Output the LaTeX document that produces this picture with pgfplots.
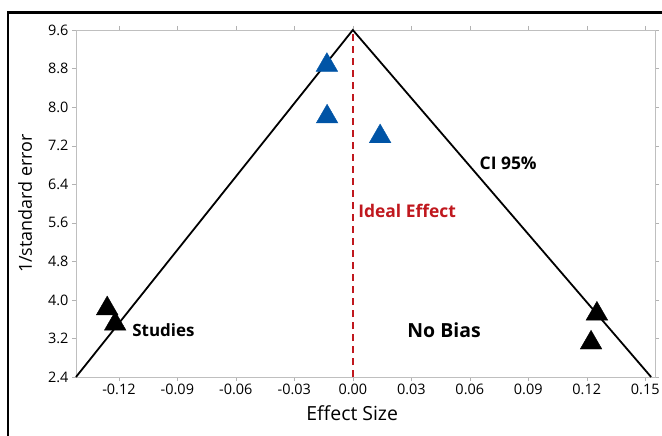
\documentclass[border=0pt]{standalone}
\usepackage{pgfplots}
\pgfplotsset{compat=1.18}
\usepackage{fontspec}
\setmainfont{Open Sans}
\definecolor{ptblue}{RGB}{0,84,166}
\definecolor{idealred}{RGB}{192,24,30}
\begin{document}
\begin{tikzpicture}
\begin{axis}[
  at={(0,0)}, anchor=south west,
  scale only axis, width=579bp, height=347bp,
  xmin=-0.142, xmax=0.155, ymin=2.4, ymax=9.6,
  axis line style={gray!50},
  tick style={gray!60},
  tick align=outside,
  major tick length=4bp,
  xtick={-0.12,-0.09,-0.06,-0.03,0,0.03,0.06,0.09,0.12,0.15},
  xticklabels={-0.12,-0.09,-0.06,-0.03,0.00,0.03,0.06,0.09,0.12,0.15},
  ytick={2.4,3.2,4.0,4.8,5.6,6.4,7.2,8.0,8.8,9.6},
  yticklabels={2.4,3.2,4.0,4.8,5.6,6.4,7.2,8.0,8.8,9.6},
  ticklabel style={font=\fontsize{14.5}{16}\selectfont},
  /pgf/number format/assume math mode=true,
  xlabel={Effect Size}, ylabel={1/standard error},
  xlabel style={font=\fontsize{19.5}{21}\selectfont, at={(axis description cs:0.477,-0.103)}, anchor=center},
  ylabel style={font=\fontsize{18}{20}\selectfont, at={(axis description cs:-0.088,0.5)}, anchor=center},
  clip=false,
]
\addplot[black, line width=1.8bp] coordinates {(-0.142,2.4) (0,9.6) (0.153,2.4)};
\addplot[idealred, line width=2bp, dash pattern=on 7bp off 5bp] coordinates {(0,2.4) (0,9.6)};
\addplot[only marks, mark=triangle*, mark size=12.5bp, color=ptblue, mark options={fill=ptblue, draw=ptblue}]
  coordinates {(-0.0133,8.87) (-0.0132,7.80) (0.0140,7.39)};
\addplot[only marks, mark=triangle*, mark size=12.5bp, color=black, mark options={fill=black, draw=black}]
  coordinates {(-0.1260,3.82) (-0.1219,3.50) (0.1252,3.71) (0.1222,3.11)};
\node[font=\fontsize{17.5}{19}\selectfont\bfseries, anchor=center] at (axis cs:0.0797,6.84) {CI 95\%};
\node[font=\fontsize{17.5}{19}\selectfont\bfseries, text=idealred, anchor=west, inner sep=0pt] at (axis cs:0.0027,5.84) {Ideal Effect};
\node[font=\fontsize{17}{19}\selectfont\bfseries, anchor=west, inner sep=0pt] at (axis cs:-0.1132,3.375) {Studies};
\node[font=\fontsize{19.5}{21}\selectfont\bfseries, anchor=center] at (axis cs:0.0468,3.375) {No Bias};
\end{axis}
\draw[line width=2.5bp] (-68bp,-120bp) |- (720bp,364.5bp);
\pgfresetboundingbox
\useasboundingbox (-76bp,-59bp) rectangle (586bp,377bp);
\end{tikzpicture}
\end{document}
